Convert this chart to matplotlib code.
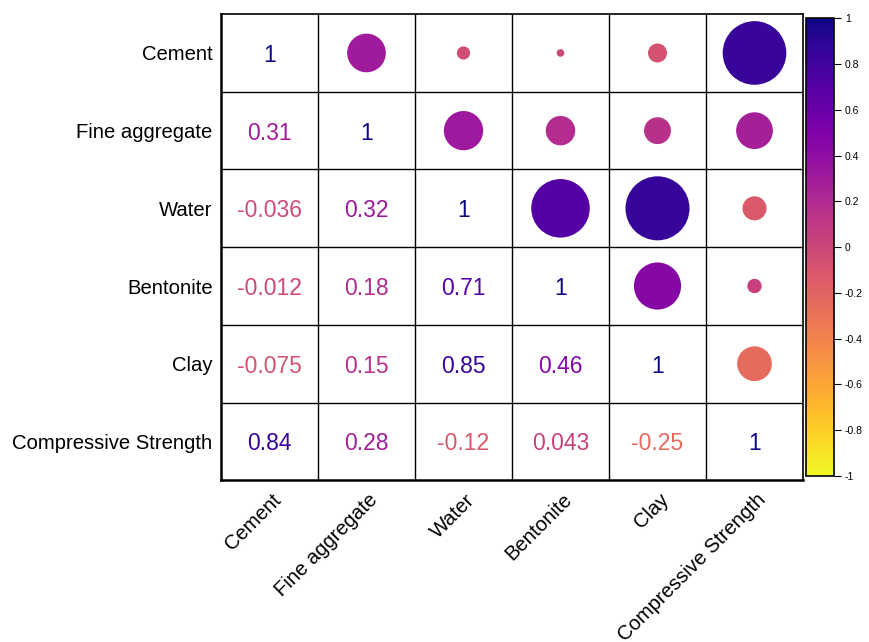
import numpy as np
import matplotlib.pyplot as plt
import matplotlib.transforms as mtransforms
from matplotlib.colors import Normalize
from matplotlib.cm import ScalarMappable

plt.rcParams['font.family'] = ['Liberation Sans', 'DejaVu Sans']

# variable names and correlation matrix
labels = ['Cement', 'Fine aggregate', 'Water', 'Bentonite', 'Clay', 'Compressive Strength']
corr = [
    [1, 0.31, -0.036, -0.012, -0.075, 0.84],
    [0.31, 1, 0.32, 0.18, 0.15, 0.28],
    [-0.036, 0.32, 1, 0.71, 0.85, -0.12],
    [-0.012, 0.18, 0.71, 1, 0.46, 0.043],
    [-0.075, 0.15, 0.85, 0.46, 1, -0.25],
    [0.84, 0.28, -0.12, 0.043, -0.25, 1],
]
cbar_ticks = [-1, -0.8, -0.6, -0.4, -0.2, 0, 0.2, 0.4, 0.6, 0.8, 1]

corr = np.array(corr, dtype=float)
n = len(labels)
cmap = plt.get_cmap('plasma_r')
norm = Normalize(vmin=-1, vmax=1)

fig = plt.figure(figsize=(8.7, 6.42), dpi=100)
ax = fig.add_axes([0.254, 0.252, 0.669, 0.726])

max_size = 50.0 ** 2  # marker area (pt^2) for |r| = 1
for i in range(n):
    for j in range(n):
        r = corr[i, j]
        color = cmap(norm(r))
        if j > i:
            ax.scatter(j, i, s=max_size * abs(r), color=color, edgecolors='none', zorder=3)
        else:
            ax.text(j, i, f'{r:.2g}', ha='center', va='center_baseline', fontsize=16.5, color=color)

# cell borders
for k in range(1, n):
    ax.axhline(k - 0.5, color='black', lw=1.0)
    ax.axvline(k - 0.5, color='black', lw=1.0)

ax.set_xlim(-0.5, n - 0.5)
ax.set_ylim(n - 0.5, -0.5)
ax.set_xticks(range(n))
ax.set_yticks(range(n))
ax.set_xticklabels(labels, rotation=45, ha='right', va='center', rotation_mode='anchor', fontsize=14.6)
ax.set_yticklabels(labels, fontsize=14.6)
ax.tick_params(axis='both', length=0)
ax.tick_params(axis='y', pad=6)
ax.tick_params(axis='x', pad=12)
shift = mtransforms.ScaledTranslation(6 / 72, 0, fig.dpi_scale_trans)
for lbl in ax.get_xticklabels():
    lbl.set_transform(lbl.get_transform() + shift)
for side in ['top', 'right']:
    ax.spines[side].set_linewidth(1.2)
for side in ['left', 'bottom']:
    ax.spines[side].set_linewidth(1.8)

# colorbar
cax = fig.add_axes([0.9264, 0.2586, 0.032, 0.713])
cb = fig.colorbar(ScalarMappable(norm=norm, cmap=cmap), cax=cax, ticks=cbar_ticks)
cb.ax.set_yticklabels([f'{t:g}' for t in cbar_ticks])
cb.ax.tick_params(labelsize=7.5, length=5, width=0.8, pad=3)
cb.outline.set_linewidth(1.2)

fig.savefig('out.png', dpi=100)
